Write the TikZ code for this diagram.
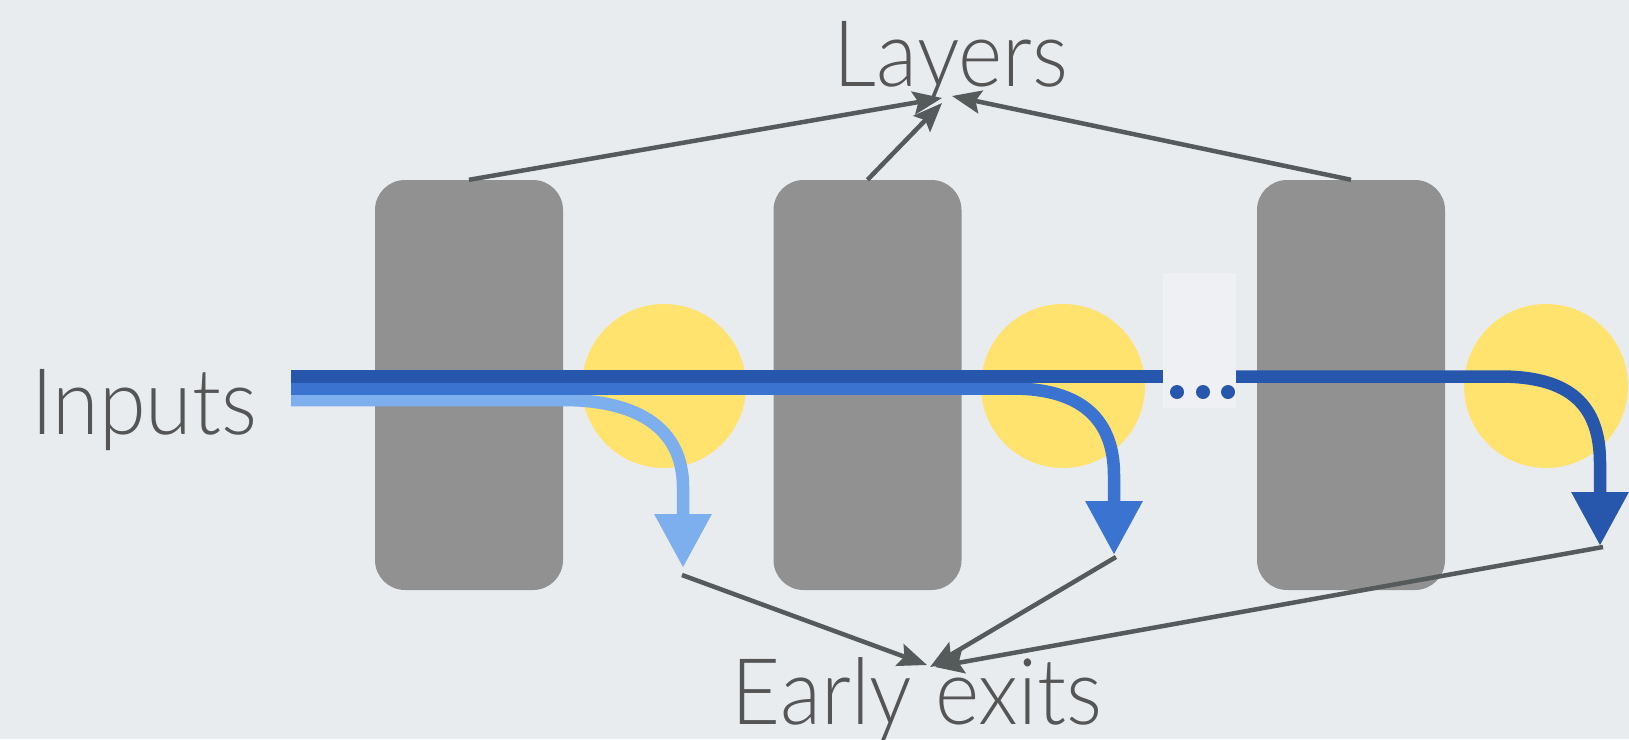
\documentclass[tikz,border=0pt]{standalone}
\usepackage{fontspec}
\setmainfont{Lato Light}
\usetikzlibrary{arrows.meta}
\definecolor{bg}{HTML}{E9ECEF}
\definecolor{dotbg}{HTML}{EFF0F3}
\definecolor{layergray}{HTML}{919191}
\definecolor{exityellow}{HTML}{FFE36E}
\definecolor{bluedark}{HTML}{2756AD}
\definecolor{bluemid}{HTML}{3B73D1}
\definecolor{bluelight}{HTML}{7DAEEE}
\definecolor{linegray}{HTML}{555A5A}
\definecolor{textgray}{HTML}{555555}
\newcommand{\narrowtext}[1]{\scalebox{0.92}[1]{#1}}
\begin{document}
\begin{tikzpicture}[x=1pt,y=-1pt,
  layerbox/.style={fill=layergray, draw=none, rounded corners=30pt, minimum width=188pt, minimum height=410pt, inner sep=0pt},
  exitdot/.style={circle, fill=exityellow, draw=none, minimum size=164pt, inner sep=0pt},
  label/.style={text=textgray, font=\fontsize{92}{92}\selectfont, inner sep=0pt, anchor=base},
  flow/.style={line width=12.5pt, line cap=butt},
  flowtip/.style={-{Triangle[width=54pt,length=54pt]}},
  pointer/.style={draw=linegray, line width=4.5pt, -{Stealth[length=29pt,width=23pt,inset=5pt]}}
]
\useasboundingbox (0,0) rectangle (1629,739);
\fill[bg] (0,0) rectangle (1629,739);

% layers
\node[layerbox] (l1) at (469,385) {};
\node[layerbox] (l2) at (867.5,385) {};
\node[layerbox] (l3) at (1351,385) {};

% exits
\node[exitdot] (e1) at (664,386) {};
\node[exitdot] (e2) at (1063,386) {};
\node[exitdot] (e3) at (1546,386) {};

% dots area
\node[fill=dotbg, minimum width=73pt, minimum height=135pt, inner sep=0pt] (dots) at (1199.5,340.5) {};
\fill[bluedark] (1177,392) circle (7pt) (1203,392) circle (7pt) (1228,392) circle (7pt);

% labels
\node[label] (layers) at (951,86) {\narrowtext{Layers}};
\node[label, anchor=base west] (inputs) at (31,434) {\narrowtext{Inputs}};
\node[label] (exits) at (917,724) {\narrowtext{Early exits}};

% flows
\coordinate (in1) at (291,376.5);
\coordinate (in2) at (291,388.5);
\coordinate (in3) at (291,400);
\coordinate (gapL) at (1163,376.5);
\coordinate (gapR) at (1236,376.5);
\coordinate (t1) at (683,568);
\coordinate (t2) at (1114,555);
\coordinate (t3) at (1600,546);

\draw[flow, bluelight, flowtip] (in3) -- (563,400) .. controls (640,400) and (683,430) .. (683,487) -- (t1);
\draw[flow, bluemid, flowtip] (in2) -- (1012,388.5) .. controls (1082,388.5) and (1114,420) .. (1114,475) -- (t2);
\draw[flow, bluedark] (in1) -- (gapL);
\draw[flow, bluedark, flowtip] (gapR) -- (1500,376.5) .. controls (1570,376.5) and (1600,405) .. (1600,463) -- (t3);

% pointers to Layers
\coordinate (la) at (942,98);
\coordinate (lb) at (942,103);
\coordinate (lc) at (952,96);
\draw[pointer] (l1.north) -- (la);
\draw[pointer] (l2.north) -- (lb);
\draw[pointer] (l3.north) -- (lc);

% pointers to Early exits
\coordinate (s1) at (682,575);
\coordinate (s2) at (1116,557);
\coordinate (s3) at (1603,547);
\coordinate (xa) at (927,665);
\coordinate (xb) at (930,667);
\coordinate (xc) at (935,667);
\draw[pointer] (s1) -- (xa);
\draw[pointer] (s2) -- (xb);
\draw[pointer] (s3) -- (xc);
\end{tikzpicture}
\end{document}
